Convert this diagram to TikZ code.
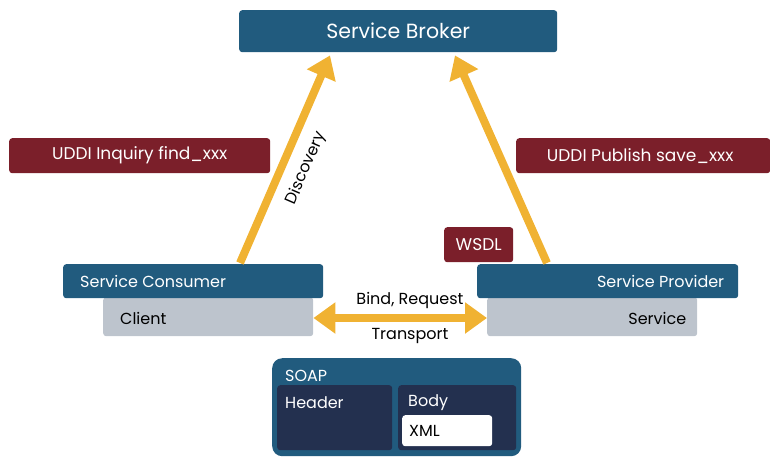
\documentclass[tikz,border=0pt]{standalone}
\usepackage{fontspec}
\setmainfont{Poppins}
\usetikzlibrary{arrows.meta,calc}
\definecolor{sblue}{HTML}{215B7E}
\definecolor{sred}{HTML}{7B1F2A}
\definecolor{sgray}{HTML}{BDC4CD}
\definecolor{snavy}{HTML}{23304F}
\definecolor{sorange}{HTML}{F0B232}
\tikzset{
  box/.style={rounded corners=3pt, inner sep=0pt, anchor=north west},
  bluebox/.style={box, fill=sblue},
  redbox/.style={box, fill=sred},
  graybox/.style={box, fill=sgray},
  navybox/.style={box, fill=snavy},
  wlabel/.style={text=white, font=\fontsize{16}{18}\selectfont, inner sep=0pt},
  klabel/.style={text=black, font=\fontsize{16}{18}\selectfont, inner sep=0pt},
  flow/.style={draw=sorange, line width=8pt},
  tip/.style={-{Triangle[width=30pt,length=22pt]}},
}
\begin{document}
\begin{tikzpicture}[x=1pt,y=-1pt]
\useasboundingbox (0,0) rectangle (770,456);

% Broker
\node[bluebox, minimum width=318pt, minimum height=42pt] (broker) at (239,10) {};
\node[wlabel, font=\fontsize{20.5}{23}\selectfont] (brokertxt) at (broker.center) {Service Broker};

% UDDI operations
\node[redbox, minimum width=261pt, minimum height=35pt] (inquiry) at (9,138) {};
\node[wlabel, font=\fontsize{17}{19}\selectfont] (inquirytxt) at (inquiry.center) {UDDI Inquiry find\_xxx};
\node[redbox, minimum width=254pt, minimum height=35pt] (publish) at (516,138) {};
\node[wlabel, font=\fontsize{17}{19}\selectfont] (publishtxt) at ($(publish.center)+(-3,0)$) {UDDI Publish save\_xxx};

% Consumer side
\node[graybox, minimum width=210pt, minimum height=39pt] (client) at (103,297) {};
\node[bluebox, minimum width=260pt, minimum height=34pt] (consumer) at (63,264) {};
\node[wlabel, anchor=west] (consumertxt) at ($(consumer.west)+(17,0)$) {Service Consumer};
\node[klabel, anchor=west] (clienttxt) at ($(client.west)+(17,2)$) {Client};

% Provider side
\node[graybox, minimum width=210pt, minimum height=39pt] (service) at (487,297) {};
\node[bluebox, minimum width=261pt, minimum height=34pt] (provider) at (477,264) {};
\node[wlabel, anchor=east] (providertxt) at ($(provider.east)+(-14,0)$) {Service Provider};
\node[klabel, anchor=east] (servicetxt) at ($(service.east)+(-11,2)$) {Service};
\node[redbox, minimum width=69pt, minimum height=35pt] (wsdl) at (444,227) {};
\node[wlabel, font=\fontsize{17}{19}\selectfont] (wsdltxt) at (wsdl.center) {WSDL};

% SOAP message
\node[box, fill=sblue, rounded corners=10pt, minimum width=249pt, minimum height=98pt] (soap) at (272,358) {};
\node[navybox, minimum width=115pt, minimum height=65pt] (header) at (277,385) {};
\node[navybox, minimum width=118pt, minimum height=65pt] (body) at (398,385) {};
\node[box, fill=white, minimum width=90pt, minimum height=31pt] (xml) at (402,415) {};
\node[wlabel, anchor=west] (soaptxt) at ($(soap.north west)+(13,18)$) {SOAP};
\node[wlabel, anchor=west] (headertxt) at ($(header.north west)+(8,18)$) {Header};
\node[wlabel, anchor=west] (bodytxt) at ($(body.north west)+(10,18)$) {Body};
\node[klabel, anchor=west] (xmltxt) at ($(xml.west)+(7,0)$) {XML};

% Flows
\coordinate (dstart) at ($(consumer.north west)+(177,-1)$);
\coordinate (dend) at ($(broker.south west)+(91,3)$);
\coordinate (pstart) at ($(provider.north west)+(70,-1)$);
\coordinate (pend) at ($(broker.south west)+(216,3)$);
\draw[flow, tip] (dstart) -- (dend)
  node[pos=0.5, sloped, below=11pt, klabel, text=black] (disc) {Discovery};
\draw[flow, tip] (pstart) -- (pend);
\draw[flow, {Triangle[width=30pt,length=22pt]}-{Triangle[width=30pt,length=22pt]}]
  (client.east |- 0,318) -- (service.west |- 0,318);
\node[klabel] (bindtxt) at (410,300) {Bind, Request};
\node[klabel] (transtxt) at (410,336) {Transport};
\end{tikzpicture}
\end{document}
